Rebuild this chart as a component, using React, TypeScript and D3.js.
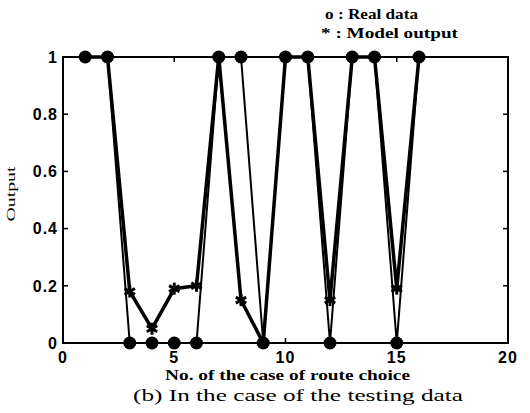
import { useEffect, useRef } from "react";
import * as d3 from "d3";

// case numbers of the testing data
const cases = [1, 2, 3, 4, 5, 6, 7, 8, 9, 10, 11, 12, 13, 14, 15, 16];
const realData = [1, 1, 0, 0, 0, 0, 1, 1, 0, 1, 1, 0, 1, 1, 0, 1];
const modelOutput = [1, 1, 0.18, 0.05, 0.19, 0.2, 1, 0.15, 0.0, 1, 1, 0.15, 1, 1, 0.19, 1];
const xTicks = [0, 5, 10, 15, 20];
const yTicks = [0, 0.2, 0.4, 0.6, 0.8, 1];

export default function App() {
  const svgRef = useRef<SVGSVGElement | null>(null);

  useEffect(() => {
    if (!svgRef.current) return;
    const svg = d3.select(svgRef.current);
    svg.selectAll("*").remove();

    const width = 530;
    const height = 413;
    const margin = { top: 57, right: 22, bottom: 70, left: 63 };
    const innerWidth = width - margin.left - margin.right;
    const innerHeight = height - margin.top - margin.bottom;

    const x = d3.scaleLinear().domain([0, 20]).range([0, innerWidth]);
    const y = d3.scaleLinear().domain([0, 1]).range([innerHeight, 0]);

    const root = svg
      .append("g")
      .attr("transform", `translate(${margin.left},${margin.top})`);

    const sans = "'Liberation Sans', Arial, sans-serif";
    const serif = "'Liberation Serif', 'Times New Roman', serif";

    // frame
    root
      .append("rect")
      .attr("width", innerWidth)
      .attr("height", innerHeight)
      .attr("fill", "none")
      .attr("stroke", "#000")
      .attr("stroke-width", 2);

    const tickLen = 5;
    // y ticks both sides
    yTicks.forEach((t) => {
      root
        .append("line")
        .attr("x1", 0)
        .attr("x2", tickLen)
        .attr("y1", y(t))
        .attr("y2", y(t))
        .attr("stroke", "#000")
        .attr("stroke-width", 1.5);
      root
        .append("line")
        .attr("x1", innerWidth)
        .attr("x2", innerWidth - tickLen)
        .attr("y1", y(t))
        .attr("y2", y(t))
        .attr("stroke", "#000")
        .attr("stroke-width", 1.5);
      root
        .append("text")
        .attr("x", -5)
        .attr("y", y(t))
        .attr("dy", "0.36em")
        .attr("text-anchor", "end")
        .attr("font-family", sans)
        .attr("font-weight", "bold")
        .attr("font-size", 16)
        .attr("letter-spacing", 1)
        .text(String(t));
    });

    xTicks.forEach((t) => {
      root
        .append("line")
        .attr("x1", x(t))
        .attr("x2", x(t))
        .attr("y1", innerHeight)
        .attr("y2", innerHeight - tickLen)
        .attr("stroke", "#000")
        .attr("stroke-width", 1.5);
      root
        .append("line")
        .attr("x1", x(t))
        .attr("x2", x(t))
        .attr("y1", 0)
        .attr("y2", tickLen)
        .attr("stroke", "#000")
        .attr("stroke-width", 1.5);
      root
        .append("text")
        .attr("x", x(t))
        .attr("y", innerHeight + 20)
        .attr("text-anchor", "middle")
        .attr("font-family", sans)
        .attr("font-weight", "bold")
        .attr("font-size", 16)
        .attr("letter-spacing", 1)
        .text(String(t));
    });

    const lineGen = d3
      .line<number>()
      .x((_, i) => x(cases[i]))
      .y((d) => y(d));

    root
      .append("path")
      .attr("d", lineGen(realData))
      .attr("fill", "none")
      .attr("stroke", "#000")
      .attr("stroke-width", 2);

    root
      .append("path")
      .attr("d", lineGen(modelOutput))
      .attr("fill", "none")
      .attr("stroke", "#000")
      .attr("stroke-width", 3.5);

    root
      .selectAll("circle.real")
      .data(realData)
      .join("circle")
      .attr("class", "real")
      .attr("cx", (_, i) => x(cases[i]))
      .attr("cy", (d) => y(d))
      .attr("r", 6.5)
      .attr("fill", "#000");

    // asterisk markers
    const star = root
      .selectAll("g.model")
      .data(modelOutput)
      .join("g")
      .attr("class", "model")
      .attr("transform", (d, i) => `translate(${x(cases[i])},${y(d)})`);
    [0, 60, 120].forEach((a) => {
      star
        .append("line")
        .attr("x1", 0)
        .attr("x2", 0)
        .attr("y1", -6)
        .attr("y2", 6)
        .attr("transform", `rotate(${a})`)
        .attr("stroke", "#000")
        .attr("stroke-width", 3);
    });

    // legend
    const legend = svg
      .append("g")
      .attr("font-family", serif)
      .attr("font-weight", "bold")
      .attr("font-size", 14)
      .attr("lengthAdjust", "spacingAndGlyphs");
    legend
      .append("text")
      .attr("x", 325)
      .attr("y", 19)
      .attr("textLength", 93)
      .attr("lengthAdjust", "spacingAndGlyphs")
      .text("o : Real data");
    legend
      .append("text")
      .attr("x", 321)
      .attr("y", 38)
      .attr("textLength", 137)
      .attr("lengthAdjust", "spacingAndGlyphs")
      .text("* : Model output");

    svg
      .append("text")
      .attr("transform", `translate(15,194) rotate(-90)`)
      .attr("text-anchor", "middle")
      .attr("font-family", serif)
      .attr("font-size", 13)
      .attr("textLength", 55)
      .attr("lengthAdjust", "spacingAndGlyphs")
      .text("Output");

    svg
      .append("text")
      .attr("x", 165)
      .attr("y", 380)
      .attr("font-family", serif)
      .attr("font-weight", "bold")
      .attr("font-size", 14)
      .attr("textLength", 245)
      .attr("lengthAdjust", "spacingAndGlyphs")
      .text("No. of the case of route choice");

    svg
      .append("text")
      .attr("x", 133)
      .attr("y", 401)
      .attr("font-family", serif)
      .attr("font-size", 17)
      .attr("textLength", 330)
      .attr("lengthAdjust", "spacingAndGlyphs")
      .text("(b) In the case of the testing data");
  }, []);

  return (
    <svg
      ref={svgRef}
      width={530}
      height={413}
      viewBox="0 0 530 413"
      style={{ position: "absolute", left: 0, top: 0, background: "#fff" }}
    />
  );
}
